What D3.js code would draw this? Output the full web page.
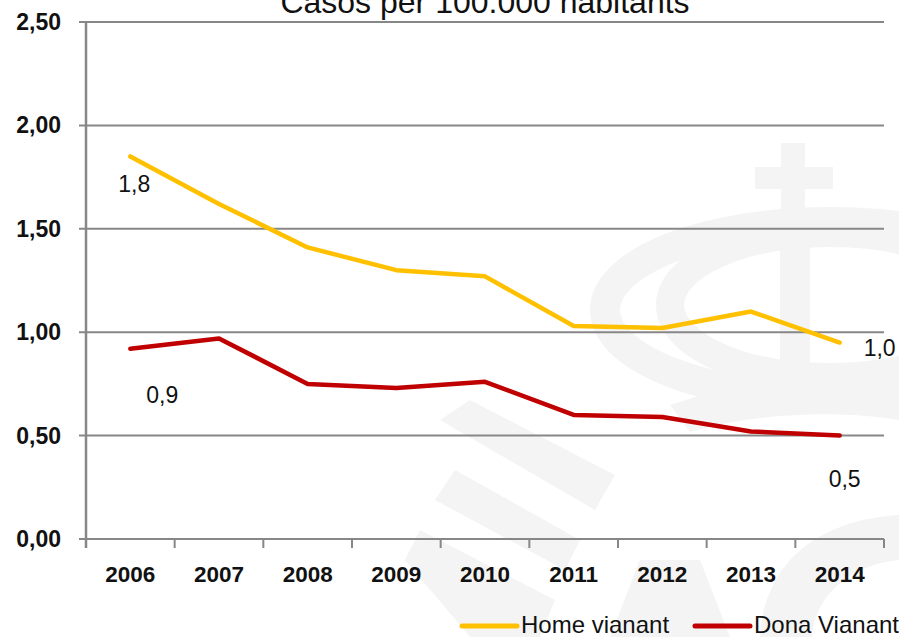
<!DOCTYPE html>
<html><head><meta charset="utf-8">
<script src="https://cdn.jsdelivr.net/npm/d3@7"></script>
<style>body{margin:0;background:#fff}svg{display:block}</style>
</head><body>
<svg id="c" width="899" height="637"></svg>
<script>
const years = ["2006","2007","2008","2009","2010","2011","2012","2013","2014"];
const homeVianant = [1.85,1.62,1.41,1.30,1.27,1.03,1.02,1.10,0.95];
const donaVianant = [0.92,0.97,0.75,0.73,0.76,0.60,0.59,0.52,0.50];
const yTicks = [0,0.5,1,1.5,2,2.5];
const seriesNames = ["Home vianant","Dona Vianant"];
const seriesColors = ["#FFC000","#C00000"];
const dataLabels = [
  {s:0,i:0,t:"1,8"},{s:0,i:8,t:"1,0"},{s:1,i:0,t:"0,9"},{s:1,i:8,t:"0,5"}
];
const title = "Casos per 100.000 habitants";

const svg = d3.select("#c");
const m = {l:86, r:884, t:22, b:539};
const x = d3.scaleBand().domain(years).range([m.l, m.r]);
const y = d3.scaleLinear().domain([0,2.5]).range([m.b, m.t]);
const fmt = v => d3.format(".2f")(v).replace(".", ",");
const font = "'Liberation Sans', Arial, sans-serif";

// faint watermark (decoration)
const wc = "#f4f4f4";
const wm = svg.append("g").attr("fill",wc).attr("stroke","none");
wm.append("rect").attr("x",781).attr("y",143).attr("width",24).attr("height",72);
wm.append("rect").attr("x",755).attr("y",167).attr("width",78).attr("height",22);
wm.append("ellipse").attr("cx",830).attr("cy",310).attr("rx",225).attr("ry",88)
  .attr("fill","none").attr("stroke",wc).attr("stroke-width",30);
wm.append("ellipse").attr("cx",830).attr("cy",305).attr("rx",160).attr("ry",72)
  .attr("fill","none").attr("stroke",wc).attr("stroke-width",28);
wm.append("rect").attr("x",780).attr("y",230).attr("width",30).attr("height",150);
wm.append("path").attr("d","M670,405 C740,380 840,375 899,385 L899,420 C840,410 760,412 690,432 Z");
wm.append("path").attr("d","M440,420 L470,400 L615,475 L595,510 Z");
wm.append("path").attr("d","M435,500 L455,470 L580,540 L565,570 Z");
wm.append("path").attr("d","M405,560 L420,530 L555,600 L540,637 L470,637 Z");
wm.append("path").attr("d","M610,637 L640,560 L700,560 L730,637 Z");
wm.append("path").attr("d","M760,637 C765,560 820,520 899,515 L899,560 C850,565 815,595 812,637 Z");

// gridlines
svg.append("g").selectAll("line").data(yTicks).join("line")
  .attr("x1", m.l-7).attr("x2", m.r)
  .attr("y1", d=>y(d)).attr("y2", d=>y(d))
  .attr("stroke","#878787").attr("stroke-width",2);

// y axis line
svg.append("line").attr("x1",m.l).attr("x2",m.l).attr("y1",m.t).attr("y2",m.b+9)
  .attr("stroke","#878787").attr("stroke-width",2.5);
// x axis ticks at band boundaries
const bounds = years.map(d=>x(d)).concat([m.r]);
svg.append("g").selectAll("line").data(bounds).join("line")
  .attr("x1",d=>d).attr("x2",d=>d).attr("y1",m.b).attr("y2",m.b+9)
  .attr("stroke","#878787").attr("stroke-width",2);

// y labels
svg.append("g").selectAll("text").data(yTicks).join("text")
  .attr("x",61).attr("y",d=>y(d)+8).attr("text-anchor","end")
  .attr("font-family",font).attr("font-weight","bold").attr("font-size",23)
  .attr("fill","#111").text(fmt);

// x labels
svg.append("g").selectAll("text").data(years).join("text")
  .attr("x",d=>x(d)+x.bandwidth()/2).attr("y",582).attr("text-anchor","middle")
  .attr("font-family",font).attr("font-weight","bold").attr("font-size",22.5)
  .attr("fill","#111").text(d=>d);

// lines
const line = d3.line().x((d,i)=>x(years[i])+x.bandwidth()/2).y(d=>y(d));
[homeVianant, donaVianant].forEach((s,k)=>{
  svg.append("path").attr("d",line(s)).attr("fill","none")
    .attr("stroke",seriesColors[k]).attr("stroke-width",4.5)
    .attr("stroke-linejoin","round").attr("stroke-linecap","round");
});

// data labels
const series = [homeVianant, donaVianant];
const offs = {"0-0":[4,36],"0-8":[40,13],"1-0":[32,54],"1-8":[5,51]};
svg.append("g").selectAll("text").data(dataLabels).join("text")
  .attr("x",d=>x(years[d.i])+x.bandwidth()/2+offs[d.s+"-"+d.i][0])
  .attr("y",d=>y(series[d.s][d.i])+offs[d.s+"-"+d.i][1])
  .attr("text-anchor","middle")
  .attr("font-family",font).attr("font-size",23).attr("fill","#111").text(d=>d.t);

// title
svg.append("text").attr("x",(m.l+m.r)/2).attr("y",13).attr("text-anchor","middle")
  .attr("font-family",font).attr("font-size",32).attr("fill","#111").text(title);

// legend
const lg = svg.append("g");
const legX = [462, 695];
seriesNames.forEach((n,k)=>{
  lg.append("line").attr("x1",legX[k]).attr("x2",legX[k]+55).attr("y1",626).attr("y2",626)
    .attr("stroke",seriesColors[k]).attr("stroke-width",5).attr("stroke-linecap","round");
  lg.append("text").attr("x",legX[k]+59).attr("y",633)
    .attr("font-family",font).attr("font-size",24).attr("fill","#111").text(n);
});
</script>
</body></html>
